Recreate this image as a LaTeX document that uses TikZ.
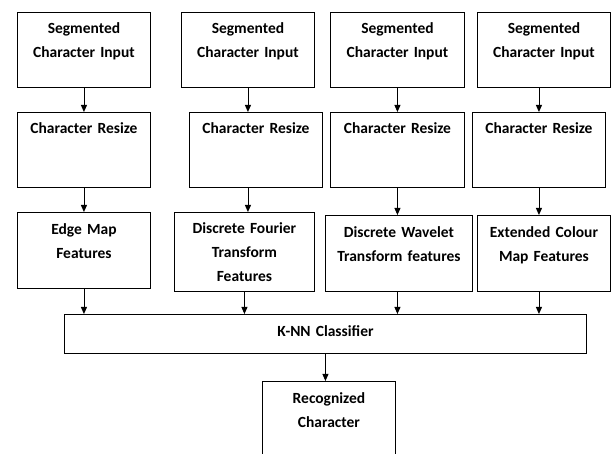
\documentclass[tikz,border=0pt]{standalone}
\usepackage{fontspec}
\setmainfont{Carlito}
\usetikzlibrary{arrows.meta}
\begin{document}
\begin{tikzpicture}
[ x=1pt, y=-1pt, line width=0.9pt
, stage/.style={draw, anchor=north west, align=center, inner xsep=0pt, inner ysep=0pt, text height=21pt, text depth=54pt, font=\fontsize{15.5pt}{24pt}\selectfont\bfseries}
, flow/.style={-{Triangle[length=7pt,width=6pt]}}
]
\useasboundingbox (0,0) rectangle (611,454);
\clip (0,0) rectangle (611,454);
% First row:
\node (in1) [stage, text width=133pt] at (17,12) {Segmented\\Character Input};
\node (in2) [stage, text width=133pt] at (181,12) {Segmented\\Character Input};
\node (in3) [stage, text width=134pt] at (330,12) {Segmented\\Character Input};
\node (in4) [stage, text width=133pt] at (477,12) {Segmented\\Character Input};
% Second row:
\node (rs1) [stage, text width=133pt] at (17,112) {Character Resize};
\node (rs2) [stage, text width=133pt] at (189,112) {Character Resize};
\node (rs3) [stage, text width=134pt] at (330,112) {Character Resize};
\node (rs4) [stage, text width=133pt] at (472,112) {Character Resize};
% Third row:
\node (edge) [stage, text width=133pt, text height=22pt] at (17,212) {Edge Map\\Features};
\node (dft) [stage, text width=140pt, text depth=58pt] at (174,212) {Discrete Fourier\\Transform\\Features};
\node (dwt) [stage, text width=147pt, text height=22pt] at (325,215) {Discrete Wavelet\\Transform features};
\node (ecm) [stage, text width=133pt, text height=22pt] at (477,215) {Extended Colour\\Map Features};
% Classifier and result:
\node (knn) [stage, text width=522pt, text height=22pt, text depth=17pt] at (64,314) {K-NN Classifier};
\node (rec) [stage, text width=133pt, text height=22pt, text depth=70pt] at (262,381) {Recognized\\Character};
\draw [flow] (in1) -- (in1 |- rs1.north);
\draw [flow] (in2) -- (in2 |- rs2.north);
\draw [flow] (in3) -- (in3 |- rs3.north);
\draw [flow] (rs4 |- in4.south) -- (rs4);
\draw [flow] (rs1) -- (rs1 |- edge.north);
\draw [flow] (rs2.south -| in2) -- (in2 |- dft.north);
\draw [flow] (rs3) -- (rs3 |- dwt.north);
\draw [flow] (rs4) -- (rs4 |- ecm.north);
\draw [flow] (edge) -- (edge |- knn.north);
\draw [flow] (dft) -- (dft |- knn.north);
\draw [flow] (dwt.south -| rs3) -- (rs3 |- knn.north);
\draw [flow] (ecm.south -| rs4) -- (rs4 |- knn.north);
\draw [flow] (knn) -- (knn |- rec.north);
\end{tikzpicture}
\end{document}
